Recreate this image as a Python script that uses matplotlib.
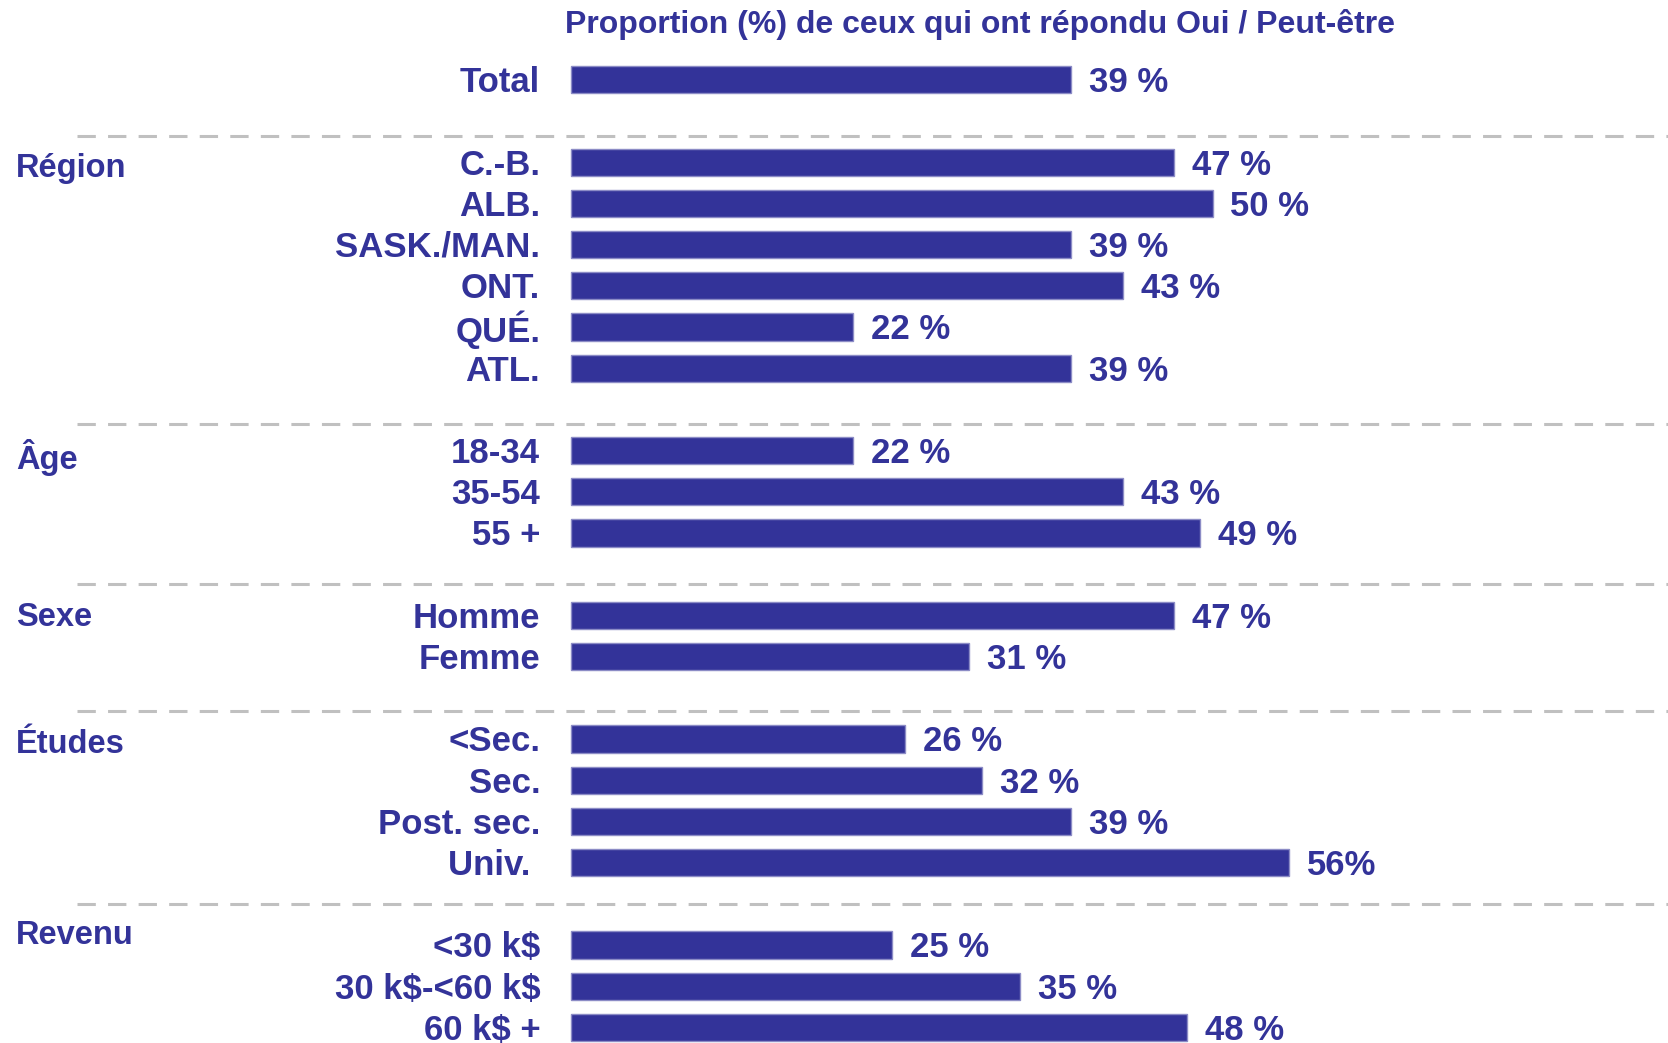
import matplotlib.pyplot as plt

# rows: position on the grid, label, value
total_label = "Total"
total_value = 39

groups = ["Région", "Âge", "Sexe", "Études", "Revenu"]
group_labels = [
    ["C.-B.", "ALB.", "SASK./MAN.", "ONT.", "QUÉ.", "ATL."],
    ["18-34", "35-54", "55 +"],
    ["Homme", "Femme"],
    ["<Sec.", "Sec.", "Post. sec.", "Univ. "],
    ["<30 k$", "30 k$-<60 k$", "60 k$ +"],
]
group_values = [
    [47, 50, 39, 43, 22, 39],
    [22, 43, 49],
    [47, 31],
    [26, 32, 39, 56],
    [25, 35, 48],
]
value_texts = {(3, 3): "56%"}

title = "Proportion (%) de ceux qui ont répondu Oui / Peut-être"

BLUE = "#333399"
EDGE = "#8c8cc6"
DASH = "#c0c0c0"

plt.rcParams["font.family"] = ["Liberation Sans", "DejaVu Sans"]

fig = plt.figure(figsize=(16.68, 10.43), dpi=100)
ax = fig.add_axes([0, 0, 1, 1])
ax.set_xlim(-44.5, 85.5)
ax.set_ylim(23.38, -1.937)
ax.axis("off")

fs = 25
dy = 0.07  # nudge text so caps sit centred on the bar


def draw_row(y, label, value, text=None):
    ax.barh(y, value, height=0.66, left=0, color=BLUE, edgecolor=EDGE, linewidth=1)
    ax.text(-2.4, y + dy, label, ha="right", va="center", fontsize=fs,
            fontweight="bold", color=BLUE, parse_math=False)
    ax.text(value + 1.4, y + dy, text or f"{value} %", ha="left", va="center",
            fontsize=fs, fontweight="bold", color=BLUE, parse_math=False)


ax.text(31.9, -1.34, title, ha="center", va="center", fontsize=23,
        fontweight="bold", color=BLUE)

draw_row(0, total_label, total_value)

sep_y = [1.36, 8.35, 12.24, 15.32, 20.0]
group_title_offset = [0.09, 0.09, -0.03, 0.06, -0.3]

y = 2
for gi, (g, labels, vals) in enumerate(zip(groups, group_labels, group_values)):
    ax.plot([-38.5, 85.5], [sep_y[gi], sep_y[gi]], color=DASH, linewidth=2.2,
            dashes=(6, 4), solid_capstyle="butt")
    ax.text(-43.25, y + group_title_offset[gi] + dy, g, ha="left", va="center",
            fontsize=23.5, fontweight="bold", color=BLUE)
    for li, (lab, v) in enumerate(zip(labels, vals)):
        draw_row(y, lab, v, value_texts.get((gi, li)))
        y += 1
    y += 1

fig.savefig("out.png", dpi=100)
